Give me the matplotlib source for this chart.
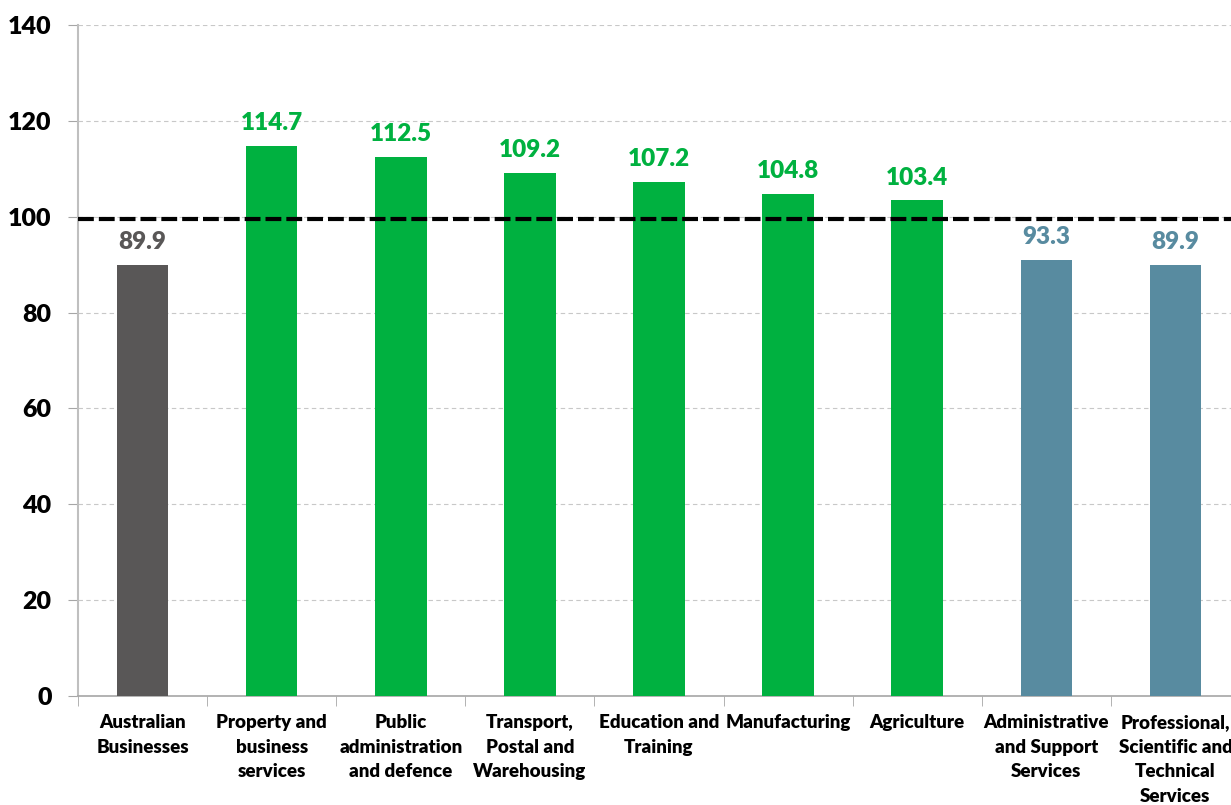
import matplotlib.pyplot as plt
from matplotlib.ticker import FixedLocator

categories = [
    "Australian\nBusinesses",
    "Property and\nbusiness\nservices",
    "Public\nadministration\nand defence",
    "Transport,\nPostal and\nWarehousing",
    "Education and\nTraining",
    "Manufacturing",
    "Agriculture",
    "Administrative\nand Support\nServices",
    "Professional,\nScientific and\nTechnical\nServices",
]
bar_values = [89.9, 114.7, 112.5, 109.2, 107.2, 104.8, 103.4, 91.0, 89.9]
bar_labels = ["89.9", "114.7", "112.5", "109.2", "107.2", "104.8", "103.4", "93.3", "89.9"]
groups = ["all", "up", "up", "up", "up", "up", "up", "down", "down"]
reference_level = 99.5
y_ticks = [0, 20, 40, 60, 80, 100, 120, 140]

colours = {"all": "#595757", "up": "#00B140", "down": "#588BA0"}
bar_colours = [colours[g] for g in groups]

plt.rcParams["font.family"] = ["Lato", "DejaVu Sans"]

fig = plt.figure(figsize=(12.31, 8.05), dpi=100)
ax = fig.add_axes([78 / 1231, 109 / 805, 1162 / 1231, 671 / 805])

x = list(range(len(categories)))
ax.bar(x, bar_values, width=0.4, color=bar_colours, zorder=3)

for xi, v, lab, c in zip(x, bar_values, bar_labels, bar_colours):
    ax.annotate(lab, (xi, v), xytext=(0, 8.5), textcoords="offset points",
                ha="center", va="bottom", fontsize=17.5, fontweight="heavy",
                color=c, zorder=5)

ax.axhline(reference_level, color="black", lw=3, dashes=(3.8, 1.2), zorder=4)

ax.set_xlim(-0.5, len(categories) - 0.5)
ax.set_ylim(0, 140)
ax.set_yticks(y_ticks)
ax.set_yticklabels([str(t) for t in y_ticks], fontsize=18, fontweight="heavy")
ax.tick_params(axis="y", length=7, color="#A6A6A6", pad=12)

ax.set_xticks(x)
ax.set_xticklabels(categories, fontsize=13.5, fontweight="heavy", linespacing=1.55)
ax.tick_params(axis="x", which="major", length=0, pad=13)
ax.xaxis.set_minor_locator(FixedLocator([i - 0.5 for i in range(len(categories) + 1)]))
ax.tick_params(axis="x", which="minor", length=7, color="#A6A6A6")

ax.grid(axis="y", color="#C8C8C8", linestyle=(0, (4, 3)), lw=0.8, zorder=0)
for s in ["top", "right"]:
    ax.spines[s].set_visible(False)
ax.spines["left"].set_color("#BFBFBF")
ax.spines["left"].set_linewidth(1.5)
ax.spines["bottom"].set_color("#A6A6A6")
ax.spines["bottom"].set_linewidth(1.2)

fig.savefig("out.png", dpi=100)
